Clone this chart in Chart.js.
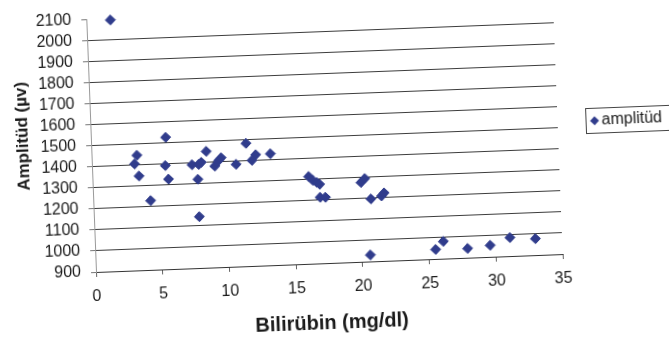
<!DOCTYPE html>
<html>
<head>
<meta charset="utf-8">
<script src="https://cdn.jsdelivr.net/npm/chart.js@4/dist/chart.umd.min.js"></script>
<style>
  html, body { margin: 0; padding: 0; background: #fff; overflow: hidden; width: 669px; height: 339px; }
  /* the scanned original sits slightly tilted, so the canvas is tilted the same way */
  #myChart { position: absolute; left: 0; top: 0; transform-origin: 96px 272px; transform: rotate(-2.2deg); }
</style>
</head>
<body>
<canvas id="myChart" width="700" height="350"></canvas>
<script>
// Values (bilirubin in mg/dl, amplitude in µv)
const bilirubin = [1.8, 5.6, 3.4, 3.2, 3.5, 5.5, 5.7, 4.3, 7.5, 8.0, 8.2, 7.9, 7.9, 8.6, 9.2, 9.7, 9.5, 10.8, 11.6, 12.0,
                   12.3, 13.4, 16.2, 16.5, 16.8, 17.0, 17.0, 17.4, 20.1, 20.4, 20.8, 21.6, 21.8, 20.6, 25.5, 26.1, 27.9, 29.6, 31.1, 33.0];
const amplitude = [2095, 1527, 1447, 1406, 1348, 1393, 1328, 1229, 1392, 1392, 1402, 1322, 1144, 1453, 1381, 1420, 1407, 1386, 1484, 1402,
                   1428, 1430, 1315, 1296, 1285, 1276, 1214, 1213, 1277, 1295, 1197, 1209, 1223, 931, 945, 982, 944, 955, 988, 978];

const seriesName = "amplitüd";
const xTitle = "Bilirübin (mg/dl)";
const yTitle = "Amplitüd (µv)";

const ink = "#303c8c";
const textColor = "#1a1a1a";
const fontFamily = "'Liberation Sans', Arial, sans-serif";

// Axis titles and the boxed legend are drawn by hand so they land where the original has them
const extras = {
  id: "extras",
  afterDraw(chart) {
    const ctx = chart.ctx;
    const area = chart.chartArea;
    ctx.save();
    ctx.fillStyle = textColor;
    ctx.textAlign = "center";
    ctx.textBaseline = "middle";
    ctx.font = "bold 20px " + fontFamily;
    ctx.fillText(xTitle, area.left + 234, area.bottom + 60);

    ctx.save();
    ctx.translate(28, area.top + 114);
    ctx.rotate(-Math.PI / 2);
    ctx.font = "bold 17px " + fontFamily;
    ctx.fillText(yTitle, 0, 0);
    ctx.restore();

    // legend box, cut off by the right edge like the scan
    const lx = 591, ly = 127;
    ctx.strokeStyle = "#444";
    ctx.lineWidth = 1;
    ctx.strokeRect(lx + 0.5, ly + 0.5, 110, 25);
    ctx.fillStyle = ink;
    Chart.helpers.drawPoint(ctx, { pointStyle: "rectRot", radius: 4.5, borderWidth: 0 }, lx + 9, ly + 13);
    ctx.fillStyle = textColor;
    ctx.textAlign = "left";
    ctx.font = "16px " + fontFamily;
    ctx.fillText(seriesName, lx + 16, ly + 13);
    ctx.restore();
  }
};

const ctx = document.getElementById("myChart").getContext("2d");

new Chart(ctx, {
  type: "scatter",
  data: {
    datasets: [{
      label: seriesName,
      data: bilirubin.map((x, i) => ({ x: x, y: amplitude[i] })),
      pointStyle: "rectRot",
      pointRadius: 5,
      backgroundColor: ink,
      borderColor: ink,
      borderWidth: 1,
      clip: false
    }]
  },
  options: {
    responsive: false,
    animation: false,
    layout: { padding: { left: 0, top: 13, right: 137, bottom: 0 } },
    plugins: {
      legend: { display: false },
      tooltip: { enabled: false }
    },
    scales: {
      x: {
        type: "linear",
        min: 0,
        max: 35,
        ticks: { stepSize: 5, padding: 10, color: textColor, font: { family: fontFamily, size: 16 } },
        grid: { drawOnChartArea: false, tickLength: 5, tickColor: "#666" },
        border: { color: "#333" },
        afterFit(scale) { scale.height = 78; }
      },
      y: {
        min: 900,
        max: 2100,
        ticks: {
          stepSize: 100,
          autoSkip: false,
          padding: 10,
          color: textColor,
          font: { family: fontFamily, size: 16 },
          callback: (v) => String(v)
        },
        grid: {
          // Excel left the top line (2100) out
          color: (c) => (c.tick && c.tick.value === 2100 ? "rgba(0,0,0,0)" : "#3c3c3c"),
          tickLength: 5,
          tickColor: "#777"
        },
        border: { color: "#999" },
        afterFit(scale) { scale.width = 96; }
      }
    }
  },
  plugins: [extras]
});
</script>
</body>
</html>
